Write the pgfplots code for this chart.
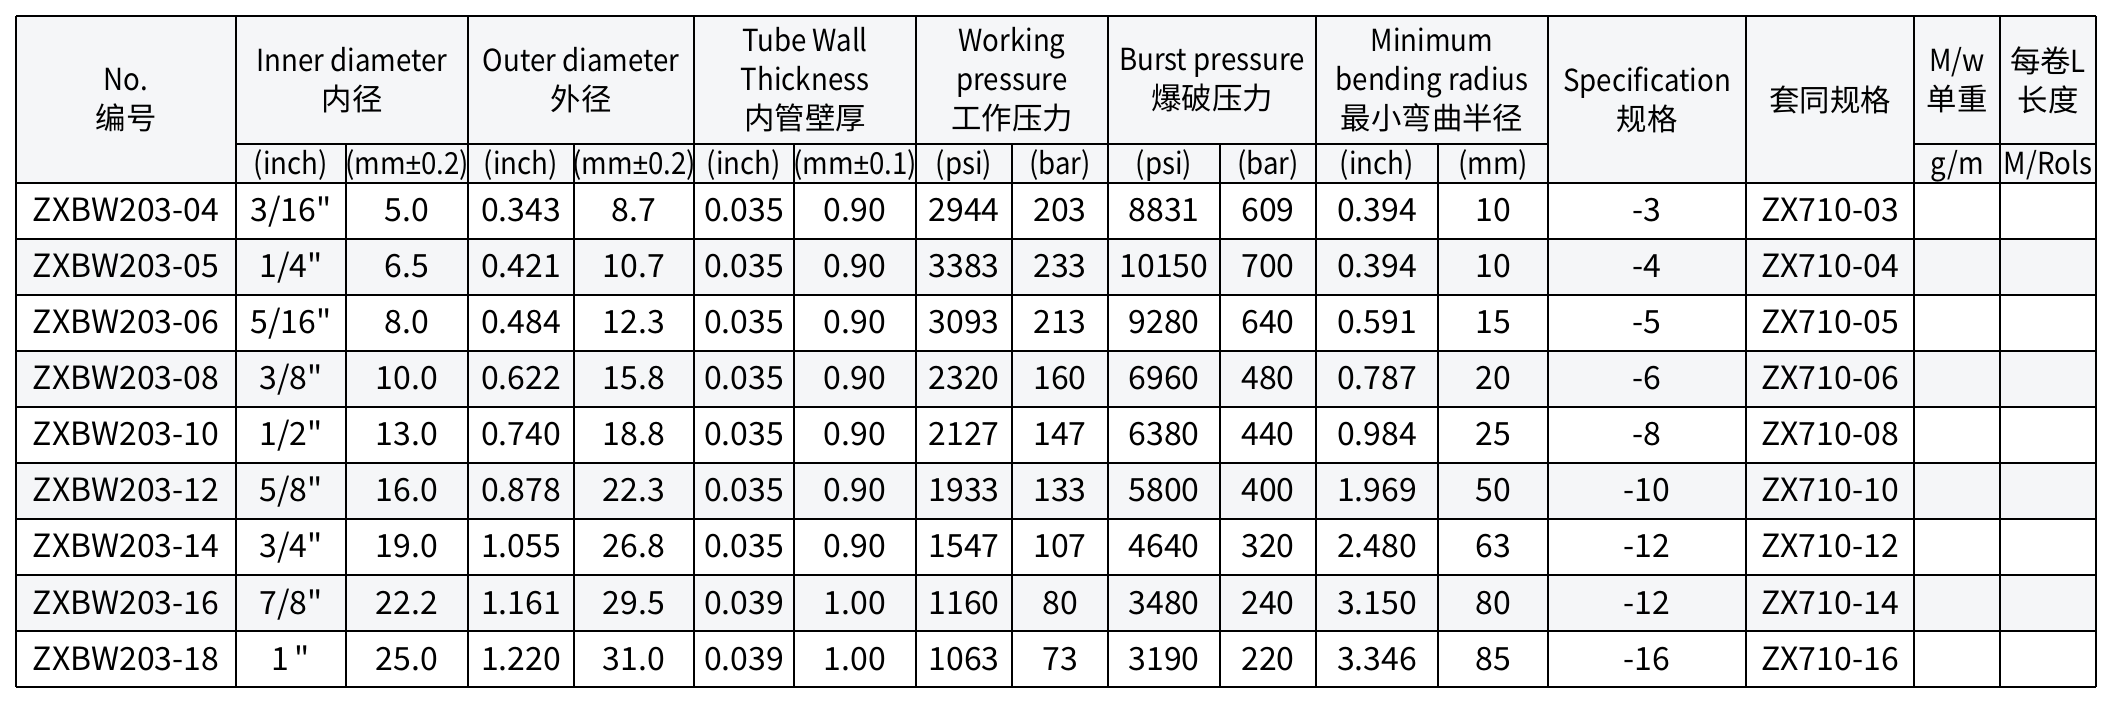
\documentclass[border=0pt]{standalone}
\usepackage{pgfplots}
\usepackage{pgfplotstable}
\pgfplotsset{compat=1.18}
\usepackage{fontspec}
\setmainfont{Noto Sans CJK SC}[Ligatures=TeXOff]
\newfontfamily\hlat{Noto Sans CJK SC}[Ligatures=TeXOff, FakeStretch=0.91]
\newfontfamily\pmfont{Liberation Sans}[FakeStretch=0.91]
\newcommand{\PM}{{\pmfont ±}}
\definecolor{hdr}{HTML}{F5F6F8}
\newcommand{\datafont}{\fontsize{16}{19}\selectfont}
\newcommand{\hfont}{\fontsize{15.2}{19.5}\selectfont}
\newcommand{\Lt}[1]{{\hlat #1}}

\pgfplotstableread[col sep=comma]{
yb,no,iin,imm,oin,omm,tin,tmm,wpsi,wbar,bpsi,bbar,rin,rmm,spec,tao
222,ZXBW203-04,3/16",5.0,0.343,8.7,0.035,0.90,2944,203,8831,609,0.394,10,-3,ZX710-03
278,ZXBW203-05,1/4",6.5,0.421,10.7,0.035,0.90,3383,233,10150,700,0.394,10,-4,ZX710-04
334,ZXBW203-06,5/16",8.0,0.484,12.3,0.035,0.90,3093,213,9280,640,0.591,15,-5,ZX710-05
390,ZXBW203-08,3/8",10.0,0.622,15.8,0.035,0.90,2320,160,6960,480,0.787,20,-6,ZX710-06
446,ZXBW203-10,1/2",13.0,0.740,18.8,0.035,0.90,2127,147,6380,440,0.984,25,-8,ZX710-08
502,ZXBW203-12,5/8",16.0,0.878,22.3,0.035,0.90,1933,133,5800,400,1.969,50,-10,ZX710-10
558,ZXBW203-14,3/4",19.0,1.055,26.8,0.035,0.90,1547,107,4640,320,2.480,63,-12,ZX710-12
614,ZXBW203-16,7/8",22.2,1.161,29.5,0.039,1.00,1160,80,3480,240,3.150,80,-12,ZX710-14
670,ZXBW203-18,1\,",25.0,1.220,31.0,0.039,1.00,1063,73,3190,220,3.346,85,-16,ZX710-16
}\datatable

\pgfplotsset{cell/.style={draw=none, mark=none, nodes near coords,
  point meta=explicit symbolic,
  every node near coord/.append style={anchor=base, font=\datafont, inner sep=0pt, text=black}}}

\begin{document}
\begin{tikzpicture}
\begin{axis}[scale only axis, width=1056pt, height=352pt,
  xmin=0, xmax=2112, ymin=0, ymax=704, y dir=reverse,
  hide axis, clip=false]
\path (axis cs:0,0) rectangle (axis cs:2112,704);
% backgrounds
\fill[hdr] (axis cs:16,16) rectangle (axis cs:2096,183);
\fill[hdr] (axis cs:16,239) rectangle (axis cs:2096,295);
\fill[hdr] (axis cs:16,351) rectangle (axis cs:2096,407);
\fill[hdr] (axis cs:16,463) rectangle (axis cs:2096,519);
\fill[hdr] (axis cs:16,575) rectangle (axis cs:2096,631);
% horizontal lines
\pgfplotsinvokeforeach{16,183,239,295,351,407,463,519,575,631,687}{
  \draw[line width=1.1pt] (axis cs:16,#1) -- (axis cs:2096,#1);}
\draw[line width=1.1pt] (axis cs:236,144) -- (axis cs:1548,144);
\draw[line width=1.1pt] (axis cs:1914,144) -- (axis cs:2096,144);
% vertical lines
\pgfplotsinvokeforeach{16,236,468,694,916,1108,1316,1548,1746,1914,2000,2096}{
  \draw[line width=1.1pt] (axis cs:#1,16) -- (axis cs:#1,687);}
\pgfplotsinvokeforeach{346,574,794,1012,1220,1438}{
  \draw[line width=1.1pt] (axis cs:#1,144) -- (axis cs:#1,687);}
% header
\node[align=center, font=\hfont] at (axis cs:126,100) {\Lt{No.}\\编号};
\node[align=center, font=\hfont] at (axis cs:352,80) {\Lt{Inner diameter}\\内径};
\node[align=center, font=\hfont] at (axis cs:581,80) {\Lt{Outer diameter}\\外径};
\node[align=center, font=\hfont] at (axis cs:805,80) {\Lt{Tube Wall}\\\Lt{Thickness}\\内管壁厚};
\node[align=center, font=\hfont] at (axis cs:1012,80) {\Lt{Working}\\\Lt{pressure}\\工作压力};
\node[align=center, font=\hfont] at (axis cs:1212,80) {\Lt{Burst pressure}\\爆破压力};
\node[align=center, font=\hfont] at (axis cs:1432,80) {\Lt{Minimum}\\\Lt{bending radius}\\最小弯曲半径};
\node[align=center, font=\hfont] at (axis cs:1647,100) {\Lt{Specification}\\规格};
\node[align=center, font=\hfont] at (axis cs:1830,100) {套同规格};
\node[align=center, font=\hfont] at (axis cs:1957,80) {\Lt{M/w}\\单重};
\node[align=center, font=\hfont] at (axis cs:2048,80) {每卷\Lt{L}\\长度};
% sub header
\tikzset{sub/.style={anchor=base, font=\hfont\hlat, inner sep=0pt}}
\node[sub] at (axis cs:291,175) {(inch)};
\node[sub] at (axis cs:407,175) {(mm\PM0.2)};
\node[sub] at (axis cs:521,175) {(inch)};
\node[sub] at (axis cs:634,175) {(mm\PM0.2)};
\node[sub] at (axis cs:744,175) {(inch)};
\node[sub] at (axis cs:855,175) {(mm\PM0.1)};
\node[sub] at (axis cs:964,175) {(psi)};
\node[sub] at (axis cs:1060,175) {(bar)};
\node[sub] at (axis cs:1164,175) {(psi)};
\node[sub] at (axis cs:1268,175) {(bar)};
\node[sub] at (axis cs:1377,175) {(inch)};
\node[sub] at (axis cs:1493,175) {(mm)};
\node[sub] at (axis cs:1957,175) {g/m};
\node[sub] at (axis cs:2048,175) {M/Rols};
% data cells
\addplot[cell] table[x expr=126, y=yb, meta=no] {\datatable};
\addplot[cell] table[x expr=291, y=yb, meta=iin] {\datatable};
\addplot[cell] table[x expr=407, y=yb, meta=imm] {\datatable};
\addplot[cell] table[x expr=521, y=yb, meta=oin] {\datatable};
\addplot[cell] table[x expr=634, y=yb, meta=omm] {\datatable};
\addplot[cell] table[x expr=744, y=yb, meta=tin] {\datatable};
\addplot[cell] table[x expr=855, y=yb, meta=tmm] {\datatable};
\addplot[cell] table[x expr=964, y=yb, meta=wpsi] {\datatable};
\addplot[cell] table[x expr=1060, y=yb, meta=wbar] {\datatable};
\addplot[cell] table[x expr=1164, y=yb, meta=bpsi] {\datatable};
\addplot[cell] table[x expr=1268, y=yb, meta=bbar] {\datatable};
\addplot[cell] table[x expr=1377, y=yb, meta=rin] {\datatable};
\addplot[cell] table[x expr=1493, y=yb, meta=rmm] {\datatable};
\addplot[cell] table[x expr=1647, y=yb, meta=spec] {\datatable};
\addplot[cell] table[x expr=1830, y=yb, meta=tao] {\datatable};
\end{axis}
\end{tikzpicture}
\end{document}
